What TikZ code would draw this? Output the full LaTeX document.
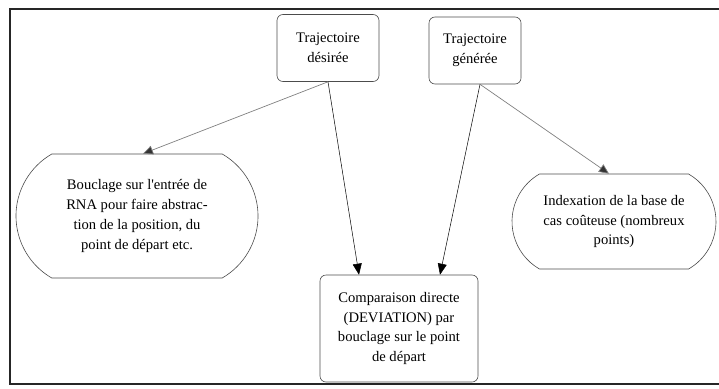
\documentclass[tikz,border=0pt]{standalone}
\usepackage{fontspec}
\setmainfont{Liberation Serif}
\usetikzlibrary{arrows.meta,shapes.misc}
\begin{document}
\begin{tikzpicture}[x=1pt,y=-1pt,
  txt/.style={font=\fontsize{14.6}{19.8}\selectfont, align=center, inner sep=0pt},
  sqbox/.style={txt, draw=black!70, line width=0.6pt, rounded corners=6pt},
  stad/.style={txt, draw=black!70, line width=0.6pt, rounded rectangle, rounded rectangle arc length=120},
  darr/.style={line width=0.5pt, -{Triangle[length=11pt,width=9pt]}},
  garr/.style={line width=0.7pt, draw=black!50, -{Triangle[length=10pt,width=9pt,fill=black!80]}}
]
\useasboundingbox (0,0) rectangle (719,388);
\draw[line width=1.1pt, draw=black!85] (10,9) rectangle (722,384);
\node[sqbox, minimum width=102pt, minimum height=67pt] (des) at (328,48) {Trajectoire\\désirée};
\node[sqbox, minimum width=92pt, minimum height=67pt] (gen) at (475,50.5) {Trajectoire\\générée};
\node[stad, minimum width=242pt, minimum height=124pt] (boucl) at (137,216) {Bouclage sur l\textquotesingle entrée de\\RNA pour faire abstrac-\\tion de la position, du\\point de départ etc.};
\node[stad, minimum width=204pt, minimum height=95pt] (idx) at (614,221.5) {Indexation de la base de\\cas coûteuse (nombreux\\points)};
\node[sqbox, minimum width=158pt, minimum height=107pt] (cmp) at (399,328.5) {Comparaison directe\\(DEVIATION) par\\bouclage sur le point\\de départ};
\draw[garr] (des.south) -- ([xshift=6pt]boucl.north);
\draw[darr] (des.south) -- ([xshift=-40pt]cmp.north);
\draw[darr] ([xshift=5pt]gen.south) -- ([xshift=41pt]cmp.north);
\draw[garr] ([xshift=5pt]gen.south) -- ([xshift=-5pt]idx.north);
\end{tikzpicture}
\end{document}
